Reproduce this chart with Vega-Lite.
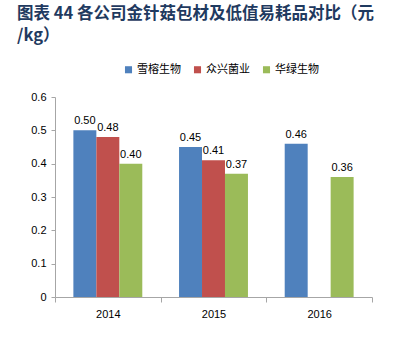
{
  "$schema": "https://vega.github.io/schema/vega-lite/v6.json",
  "autosize": {"type": "none"},
  "width": 317,
  "height": 200,
  "padding": {"left": 55, "top": 97, "right": 28, "bottom": 60},
  "background": "white",
  "title": {
    "text": ["图表 44 各公司金针菇包材及低值易耗品对比（元", "/kg）"],
    "anchor": "start",
    "frame": "group",
    "dx": -38,
    "offset": 20,
    "font": "Noto Sans CJK SC",
    "fontSize": 16.5,
    "fontWeight": "bold",
    "color": "#1F3A60",
    "lineHeight": 22
  },
  "data": {
    "values": [
      {"year": "2014", "company": "雪榕生物", "value": 0.50},
      {"year": "2014", "company": "众兴菌业", "value": 0.48},
      {"year": "2014", "company": "华绿生物", "value": 0.40},
      {"year": "2015", "company": "雪榕生物", "value": 0.45},
      {"year": "2015", "company": "众兴菌业", "value": 0.41},
      {"year": "2015", "company": "华绿生物", "value": 0.37},
      {"year": "2016", "company": "雪榕生物", "value": 0.46},
      {"year": "2016", "company": "华绿生物", "value": 0.36}
    ]
  },
  "encoding": {
    "x": {
      "field": "year",
      "type": "nominal",
      "scale": {"paddingInner": 0, "paddingOuter": 0},
      "axis": {
        "title": null,
        "labelAngle": 0,
        "tickBand": "extent",
        "domainColor": "#A6A6A6",
        "tickColor": "#A6A6A6",
        "tickSize": 5,
        "labelFont": "Liberation Sans",
        "labelFontSize": 11,
        "labelColor": "#000000",
        "labelPadding": 6
      }
    },
    "xOffset": {
      "field": "company",
      "type": "nominal",
      "sort": ["雪榕生物", "众兴菌业", "华绿生物"],
      "scale": {"domain": ["雪榕生物", "众兴菌业", "华绿生物"], "paddingInner": 0, "paddingOuter": 0.8}
    },
    "y": {
      "field": "value",
      "type": "quantitative",
      "scale": {"domain": [0, 0.6], "nice": false},
      "axis": {
        "title": null,
        "values": [0, 0.1, 0.2, 0.3, 0.4, 0.5, 0.6],
        "format": ".1~f",
        "grid": false,
        "domainColor": "#A6A6A6",
        "tickColor": "#A6A6A6",
        "tickSize": 4,
        "labelFont": "Liberation Sans",
        "labelFontSize": 11,
        "labelColor": "#000000",
        "labelPadding": 5
      }
    }
  },
  "layer": [
    {
      "mark": {"type": "bar"},
      "encoding": {
        "color": {
          "field": "company",
          "type": "nominal",
          "sort": ["雪榕生物", "众兴菌业", "华绿生物"],
          "scale": {"domain": ["雪榕生物", "众兴菌业", "华绿生物"], "range": ["#4F81BD", "#C0504D", "#9BBB59"]},
          "legend": {
            "title": null,
            "orient": "none",
            "legendX": 68,
            "legendY": -33,
            "direction": "horizontal",
            "symbolType": "square",
            "symbolSize": 50,
            "symbolStrokeWidth": 0,
            "labelFont": "Noto Sans CJK SC",
            "labelFontSize": 11,
            "labelColor": "#000000",
            "columnPadding": 11,
            "labelOffset": 3
          }
        }
      }
    },
    {
      "mark": {"type": "text", "dy": -9, "font": "Liberation Sans", "fontSize": 11, "color": "#000000"},
      "encoding": {
        "text": {"field": "value", "type": "quantitative", "format": ".2f"}
      }
    }
  ],
  "config": {
    "view": {"stroke": null}
  }
}
